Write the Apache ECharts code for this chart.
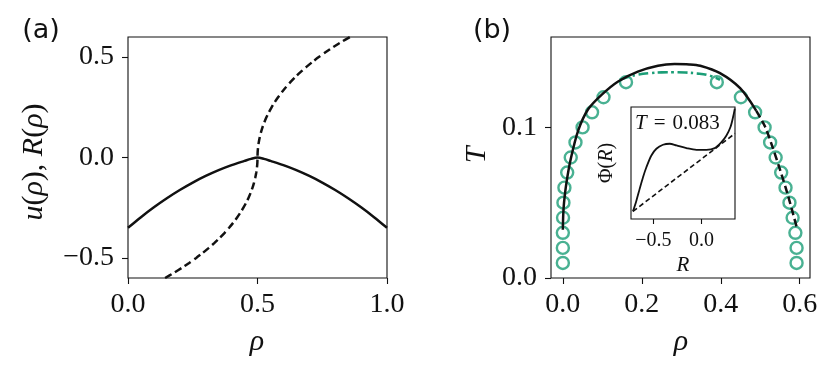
<!DOCTYPE html>
<html><head><meta charset="utf-8">
<script src="https://cdn.jsdelivr.net/npm/echarts@6/dist/echarts.min.js"></script>
<style>html,body{margin:0;padding:0;background:#fff}#c{width:831px;height:369px}</style>
</head><body><div id="c"></div>
<script>
// ---- Panel (a): u(rho) solid, R(rho) dashed ----
const uRho  = [0, 0.05, 0.10, 0.15, 0.20, 0.25, 0.30, 0.35, 0.40, 0.45, 0.475, 0.50, 0.525, 0.55, 0.60, 0.65, 0.70, 0.75, 0.80, 0.85, 0.90, 0.95, 1.0];
const uVals = [-0.350, -0.297, -0.248, -0.203, -0.162, -0.125, -0.092, -0.063, -0.038, -0.017, -0.007, 0.000, -0.007, -0.017, -0.038, -0.063, -0.092, -0.125, -0.162, -0.203, -0.248, -0.297, -0.350];
const rRho  = [0.1432, 0.1762, 0.2072, 0.2362, 0.2634, 0.2887, 0.3122, 0.3340, 0.3543, 0.3731, 0.3904, 0.4062, 0.4207, 0.4338, 0.4456, 0.4562, 0.4656, 0.4737, 0.4808, 0.4867, 0.4915, 0.4952, 0.4979, 0.4995, 0.5000,
               0.5005, 0.5021, 0.5048, 0.5085, 0.5133, 0.5192, 0.5263, 0.5344, 0.5438, 0.5544, 0.5662, 0.5793, 0.5938, 0.6096, 0.6269, 0.6456, 0.6659, 0.6878, 0.7113, 0.7366, 0.7638, 0.7928, 0.8238, 0.8568];
const rVals = [-0.600, -0.575, -0.550, -0.525, -0.500, -0.475, -0.450, -0.425, -0.400, -0.375, -0.350, -0.325, -0.300, -0.275, -0.250, -0.225, -0.200, -0.175, -0.150, -0.125, -0.100, -0.075, -0.050, -0.025, 0.000,
               0.025, 0.050, 0.075, 0.100, 0.125, 0.150, 0.175, 0.200, 0.225, 0.250, 0.275, 0.300, 0.325, 0.350, 0.375, 0.400, 0.425, 0.450, 0.475, 0.500, 0.525, 0.550, 0.575, 0.600];
const aXTicks = [0, 0.5, 1.0];
const aYTicks = [-0.5, 0, 0.5];

// ---- Panel (b): phase diagram ----
const circT    = [0.01, 0.02, 0.03, 0.04, 0.05, 0.06, 0.07, 0.08, 0.09, 0.10, 0.11, 0.12, 0.13];
const circRhoL = [0.000, 0.000, 0.000, 0.0005, 0.0015, 0.004, 0.011, 0.020, 0.032, 0.050, 0.074, 0.103, 0.160];
const circRhoR = [0.592, 0.592, 0.589, 0.582, 0.574, 0.564, 0.553, 0.539, 0.525, 0.511, 0.487, 0.451, 0.390];
const solidRho = [0.000, 0.001, 0.003, 0.009, 0.020, 0.039, 0.064, 0.098, 0.140, 0.190, 0.241, 0.283, 0.320, 0.348, 0.398, 0.449, 0.490];
const solidT   = [0.032, 0.042, 0.050, 0.063, 0.079, 0.098, 0.112, 0.1216, 0.1305, 0.137, 0.1409, 0.142, 0.1418, 0.1409, 0.136, 0.126, 0.111];
const dashRho  = [0.490, 0.512, 0.529, 0.550, 0.570, 0.592];
const dashT    = [0.111, 0.1006, 0.0885, 0.072, 0.055, 0.034];
const ddRho    = [0.144, 0.165, 0.190, 0.220, 0.250, 0.280, 0.310, 0.340, 0.370, 0.398];
const ddT      = [0.1316, 0.1335, 0.135, 0.136, 0.1365, 0.1366, 0.1364, 0.1358, 0.1345, 0.1316];
const bXTicks = [0, 0.2, 0.4, 0.6];
const bYTicks = [0, 0.1];

// ---- Inset: Phi(R) at T = 0.083 ----
const phiR = [-0.7125, -0.677, -0.643, -0.608, -0.573, -0.521, -0.469, -0.400, -0.330, -0.260, -0.156, -0.052, 0.052, 0.139, 0.208, 0.260, 0.302, 0.329, 0.347];
const phiV = [0.068, 0.164, 0.269, 0.373, 0.462, 0.567, 0.627, 0.663, 0.672, 0.657, 0.633, 0.618, 0.618, 0.633, 0.686, 0.746, 0.821, 0.910, 0.986];
const tanR = [-0.7125, 0.349];
const tanV = [0.068, 0.764];
const inXTicks = [-0.5, 0.0];

const GREEN = '#1b9e77';
const INK = '#111';
const SERIF = '"Liberation Serif", "Times New Roman", serif';
const zip = (a, b) => a.map((v, i) => [v, b[i]]);
const fmt = v => v.toFixed(1).replace('-', '\u2212');

function ax(grid, min, max, ticks, fs, margin, len) {
  return { type: 'value', gridIndex: grid, min, max, splitLine: { show: false },
    axisLine: { show: false, onZero: false },
    axisTick: { show: true, length: len, lineStyle: { color: INK, width: 1.1 }, customValues: ticks },
    axisLabel: { show: true, customValues: ticks, formatter: fmt, fontFamily: SERIF, fontSize: fs, color: INK, margin } };
}

const chart = echarts.init(document.getElementById('c'), null, { renderer: 'canvas' });
const opt = {
  animation: false,
  backgroundColor: '#fff',
  grid: [
    { left: 128, top: 37, width: 259, height: 241, show: true, borderColor: INK, borderWidth: 1.1, backgroundColor: 'transparent' },
    { left: 551, top: 37, width: 259, height: 241, show: true, borderColor: INK, borderWidth: 1.1, backgroundColor: 'transparent' },
    { left: 631, top: 107, width: 104, height: 112, show: true, borderColor: INK, borderWidth: 1.1, backgroundColor: '#fff', z: 1 }
  ],
  xAxis: [
    ax(0, 0, 1, aXTicks, 28, 13, 6),
    ax(1, -0.03, 0.626, bXTicks, 28, 13, 6),
    ax(2, -0.733, 0.349, inXTicks, 20, 12, 5)
  ],
  yAxis: [
    ax(0, -0.6, 0.6, aYTicks, 28, 14, 6),
    ax(1, 0, 0.16, bYTicks, 28, 14, 6),
    { type: 'value', gridIndex: 2, min: 0, max: 1, show: false, splitLine: { show: false } }
  ],
  series: [
    { type: 'line', xAxisIndex: 0, yAxisIndex: 0, data: zip(uRho, uVals), smooth: 0.3, showSymbol: false, clip: true,
      lineStyle: { color: INK, width: 2.5 }, z: 3 },
    { type: 'line', xAxisIndex: 0, yAxisIndex: 0, data: zip(rRho, rVals), smooth: 0.2, showSymbol: false, clip: true,
      lineStyle: { color: INK, width: 2.5, type: [7.5, 4] }, z: 3 },
    { type: 'scatter', xAxisIndex: 1, yAxisIndex: 1, data: zip(circRhoL, circT).concat(zip(circRhoR, circT)), symbol: 'circle', symbolSize: 12,
      itemStyle: { color: 'rgba(0,0,0,0)', borderColor: GREEN, borderWidth: 2.4 }, z: 2 },
    { type: 'line', xAxisIndex: 1, yAxisIndex: 1, data: zip(ddRho, ddT), smooth: 0.4, showSymbol: false,
      lineStyle: { color: GREEN, width: 2.6, type: [10, 3.5, 2.5, 3.5] }, z: 3 },
    { type: 'line', xAxisIndex: 1, yAxisIndex: 1, data: zip(solidRho, solidT), smooth: 0.3, showSymbol: false,
      lineStyle: { color: INK, width: 2.5 }, z: 4 },
    { type: 'line', xAxisIndex: 1, yAxisIndex: 1, data: zip(dashRho, dashT), smooth: 0.3, showSymbol: false,
      lineStyle: { color: INK, width: 2.5, type: [7.5, 4] }, z: 4 },
    { type: 'line', xAxisIndex: 2, yAxisIndex: 2, data: zip(phiR, phiV), smooth: 0.3, showSymbol: false, clip: true,
      lineStyle: { color: INK, width: 1.8 }, z: 6 },
    { type: 'line', xAxisIndex: 2, yAxisIndex: 2, data: zip(tanR, tanV), showSymbol: false, clip: true,
      lineStyle: { color: INK, width: 1.6, type: [5, 3] }, z: 6 }
  ],
  graphic: [
    { type: 'text', x: 41, y: 31, style: { text: '(a)', font: '27px "DejaVu Sans", sans-serif', fill: INK, align: 'center', verticalAlign: 'middle' } },
    { type: 'text', x: 492, y: 31, style: { text: '(b)', font: '27px "DejaVu Sans", sans-serif', fill: INK, align: 'center', verticalAlign: 'middle' } },
    { type: 'text', x: 257, y: 342, style: { text: 'ρ', font: 'italic 30px ' + SERIF, fill: INK, align: 'center', verticalAlign: 'middle' } },
    { type: 'text', x: 681, y: 342, style: { text: 'ρ', font: 'italic 30px ' + SERIF, fill: INK, align: 'center', verticalAlign: 'middle' } },
    { type: 'text', x: 34, y: 162, rotation: Math.PI / 2,
      style: { text: '{i|u}{n|(}{i|ρ}{n|), }{i|R}{n|(}{i|ρ}{n|)}', align: 'center', verticalAlign: 'middle', fill: INK,
        rich: { i: { fontFamily: SERIF, fontStyle: 'italic', fontSize: 30, fill: INK }, n: { fontFamily: SERIF, fontSize: 30, fill: INK } } } },
    { type: 'text', x: 477, y: 155, rotation: Math.PI / 2,
      style: { text: 'T', font: 'italic 30px ' + SERIF, fill: INK, align: 'center', verticalAlign: 'middle' } },
    { type: 'text', x: 607, y: 163, rotation: Math.PI / 2, z: 10,
      style: { text: '{n|Φ(}{i|R}{n|)}', align: 'center', verticalAlign: 'middle', fill: INK,
        rich: { i: { fontFamily: SERIF, fontStyle: 'italic', fontSize: 20, fill: INK }, n: { fontFamily: SERIF, fontSize: 20, fill: INK } } } },
    { type: 'text', x: 683, y: 265, z: 10, style: { text: 'R', font: 'italic 21px ' + SERIF, fill: INK, align: 'center', verticalAlign: 'middle' } },
    { type: 'text', x: 635, y: 123, z: 10,
      style: { text: '{i|T}{n|\u2004=\u20040.083}', align: 'left', verticalAlign: 'middle', fill: INK,
        rich: { i: { fontFamily: SERIF, fontStyle: 'italic', fontSize: 21, fill: INK }, n: { fontFamily: SERIF, fontSize: 21, fill: INK } } } }
  ]
};
chart.setOption(opt);
</script></body></html>
